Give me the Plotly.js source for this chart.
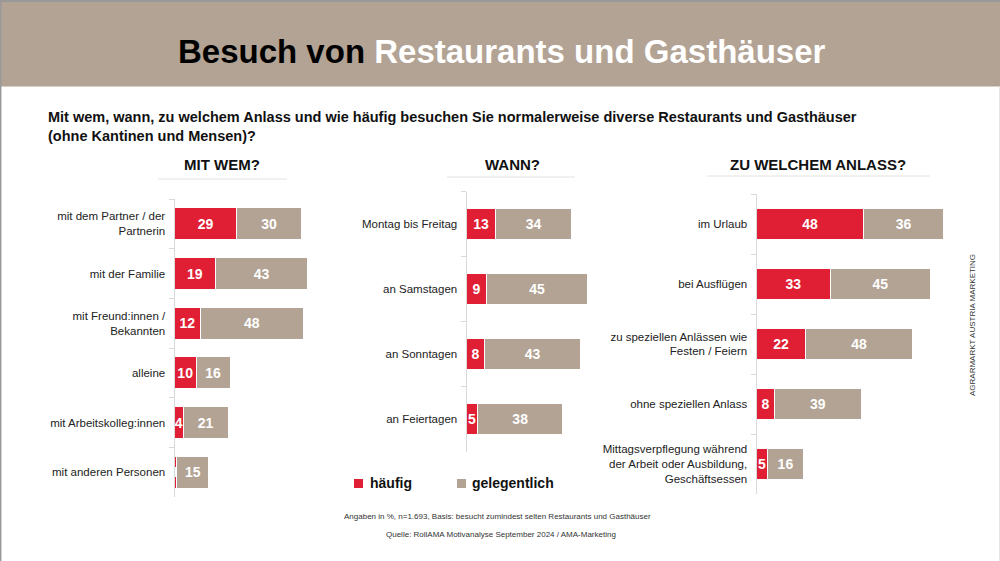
<!DOCTYPE html>
<html><head><meta charset="utf-8">
<script src="https://cdn.plot.ly/plotly-3.0.1.min.js"></script>
<style>html,body{margin:0;padding:0;background:#fff}#chart{width:1000px;height:561px}</style>
</head><body><div id="chart"></div>
<script>
// Panel 1: MIT WEM?
const cat1 = ["mit dem Partner / der<br>Partnerin","mit der Familie","mit Freund:innen /<br>Bekannten","alleine","mit Arbeitskolleg:innen","mit anderen Personen"];
const oft1 = [29,19,12,10,4,1];
const gel1 = [30,43,48,16,21,15];
// Panel 2: WANN?
const cat2 = ["Montag bis Freitag","an Samstagen","an Sonntagen","an Feiertagen"];
const oft2 = [13,9,8,5];
const gel2 = [34,45,43,38];
// Panel 3: ZU WELCHEM ANLASS?
const cat3 = ["im Urlaub","bei Ausflügen","zu speziellen Anlässen wie<br>Festen / Feiern","ohne speziellen Anlass","Mittagsverpflegung während<br>der Arbeit oder Ausbildung,<br>Geschäftsessen"];
const oft3 = [48,33,22,8,5];
const gel3 = [36,45,48,39,16];
const seriesNames = ["häufig","gelegentlich"];
const headings = ["MIT WEM?","WANN?","ZU WELCHEM ANLASS?"];

const RED = "#E01F35", TAUPE = "#B3A394";
const W = 1000, H = 561;
const px = x => x / W, py = y => 1 - y / H;
const FONT = "Liberation Sans, Arial, sans-serif";

function mk(cats, vals, color, name, xa, ya, width) {
  return {
    type: "bar", orientation: "h", y: cats, x: vals, name: name,
    xaxis: xa, yaxis: ya, width: width, showlegend: false,
    marker: {color: color, line: {color: "#ffffff", width: 1}},
    text: vals.map(String), textposition: "inside", insidetextanchor: "middle",
    constraintext: "none", cliponaxis: false,
    textfont: {color: "#ffffff", size: 14, family: FONT, weight: 700},
    hoverinfo: "x+y"
  };
}
const traces = [
  mk(cat1, oft1, RED, seriesNames[0], "x", "y", 0.645),
  mk(cat1, gel1, TAUPE, seriesNames[1], "x", "y", 0.645),
  mk(cat2, oft2, RED, seriesNames[0], "x2", "y2", 0.49),
  mk(cat2, gel2, TAUPE, seriesNames[1], "x2", "y2", 0.49),
  mk(cat3, oft3, RED, seriesNames[0], "x3", "y3", 0.53),
  mk(cat3, gel3, TAUPE, seriesNames[1], "x3", "y3", 0.53)
];

function xax(x0, pxPerUnit, range) {
  return {domain: [px(x0), px(x0 + pxPerUnit * range)], range: [0, range], visible: true,
    showgrid: false, zeroline: false, showticklabels: false, ticks: "", showline: false, fixedrange: true};
}
function yax(y0, y1, n, anchor) {
  return {domain: [py(y1), py(y0)], range: [n - 0.5, -0.5], type: "category", anchor: anchor,
    showgrid: false, zeroline: false, showline: true, linecolor: "#d9d9d9", linewidth: 1,
    ticks: "outside", tickson: "boundaries", ticklen: 5, tickcolor: "#d9d9d9",
    ticklabelstandoff: 6,
    tickfont: {family: FONT, size: 11.5, color: "#222"}, automargin: false, fixedrange: true};
}

const shapes = [
  {type: "rect", xref: "paper", yref: "paper", x0: 0, x1: 1, y0: py(86.5), y1: 1, fillcolor: "#B3A394", line: {width: 0}, layer: "below"},
  {type: "line", xref: "paper", yref: "paper", x0: 0, x1: 1, y0: py(1), y1: py(1), line: {color: "#999", width: 2}},
  {type: "line", xref: "paper", yref: "paper", x0: px(0.7), x1: px(0.7), y0: 0, y1: 1, line: {color: "#999", width: 1.5}},
  {type: "line", xref: "paper", yref: "paper", x0: px(999.5), x1: px(999.5), y0: 0, y1: py(86.5), line: {color: "#e6e6e6", width: 1}},
  {type: "line", xref: "paper", yref: "paper", x0: px(158), x1: px(287), y0: py(179), y1: py(179), line: {color: "#e5e2dd", width: 1}},
  {type: "line", xref: "paper", yref: "paper", x0: px(447), x1: px(575), y0: py(177), y1: py(177), line: {color: "#e5e2dd", width: 1}},
  {type: "line", xref: "paper", yref: "paper", x0: px(707), x1: px(930), y0: py(176), y1: py(176), line: {color: "#e5e2dd", width: 1}},
  {type: "rect", xref: "paper", yref: "paper", x0: px(354), x1: px(363), y0: py(488), y1: py(479), fillcolor: RED, line: {width: 0}},
  {type: "rect", xref: "paper", yref: "paper", x0: px(457), x1: px(466), y0: py(488), y1: py(479), fillcolor: TAUPE, line: {width: 0}}
];

const ann = (x, y, text, size, opts) => Object.assign({xref: "paper", yref: "paper", x: px(x), y: py(y), text: text,
  showarrow: false, font: {family: FONT, size: size, color: "#111"}, xanchor: "center", yanchor: "middle"}, opts || {});

const annotations = [
  ann(502, 52, "<span style='color:#000'>Besuch von </span><span style='color:#fff'>Restaurants und Gasthäuser</span>", 33, {font: {family: FONT, size: 33, weight: 900, color: "#000"}}),
  ann(46, 126, "Mit wem, wann, zu welchem Anlass und wie häufig besuchen Sie normalerweise diverse Restaurants und Gasthäuser<br>(ohne Kantinen und Mensen)?", 14.5, {xanchor: "left", align: "left", font: {family: FONT, size: 14.5, weight: 700, color: "#111"}}),
  ann(222, 164, headings[0], 15, {font: {family: FONT, size: 15, weight: 900, color: "#111"}}),
  ann(512, 164, headings[1], 15, {font: {family: FONT, size: 15, weight: 900, color: "#111"}}),
  ann(818, 164, headings[2], 15, {font: {family: FONT, size: 15, weight: 900, color: "#111"}}),
  ann(368, 483, seriesNames[0], 14, {xanchor: "left", font: {family: FONT, size: 14, weight: 700, color: "#111"}}),
  ann(470, 483, seriesNames[1], 14, {xanchor: "left", font: {family: FONT, size: 14, weight: 700, color: "#111"}}),
  ann(497, 516, "Angaben in %, n=1.693, Basis: besucht zumindest selten Restaurants und Gasthäuser", 8, {font: {family: FONT, size: 8, color: "#333"}}),
  ann(501, 534, "Quelle: RollAMA Motivanalyse September 2024 / AMA-Marketing", 8, {font: {family: FONT, size: 8, color: "#333"}}),
  ann(972, 325, "AGRARMARKT AUSTRIA MARKETING", 8, {textangle: -90, font: {family: FONT, size: 8, color: "#333"}})
];

const layout = {
  width: W, height: H, margin: {l: 0, r: 0, t: 0, b: 0}, paper_bgcolor: "#fff", plot_bgcolor: "rgba(0,0,0,0)",
  barmode: "stack", bargap: 0, showlegend: false,
  font: {family: FONT},
  xaxis: Object.assign(xax(174.5, 2.15, 65), {anchor: "y"}),
  yaxis: yax(199, 497, 6, "x"),
  xaxis2: Object.assign(xax(466.5, 2.24, 57), {anchor: "y2"}),
  yaxis2: yax(191.5, 451.5, 4, "x2"),
  xaxis3: Object.assign(xax(756.5, 2.23, 86), {anchor: "y3"}),
  yaxis3: yax(194, 494, 5, "x3"),
  shapes: shapes, annotations: annotations
};
Plotly.newPlot("chart", traces, layout, {displayModeBar: false, staticPlot: true});
</script></body></html>
